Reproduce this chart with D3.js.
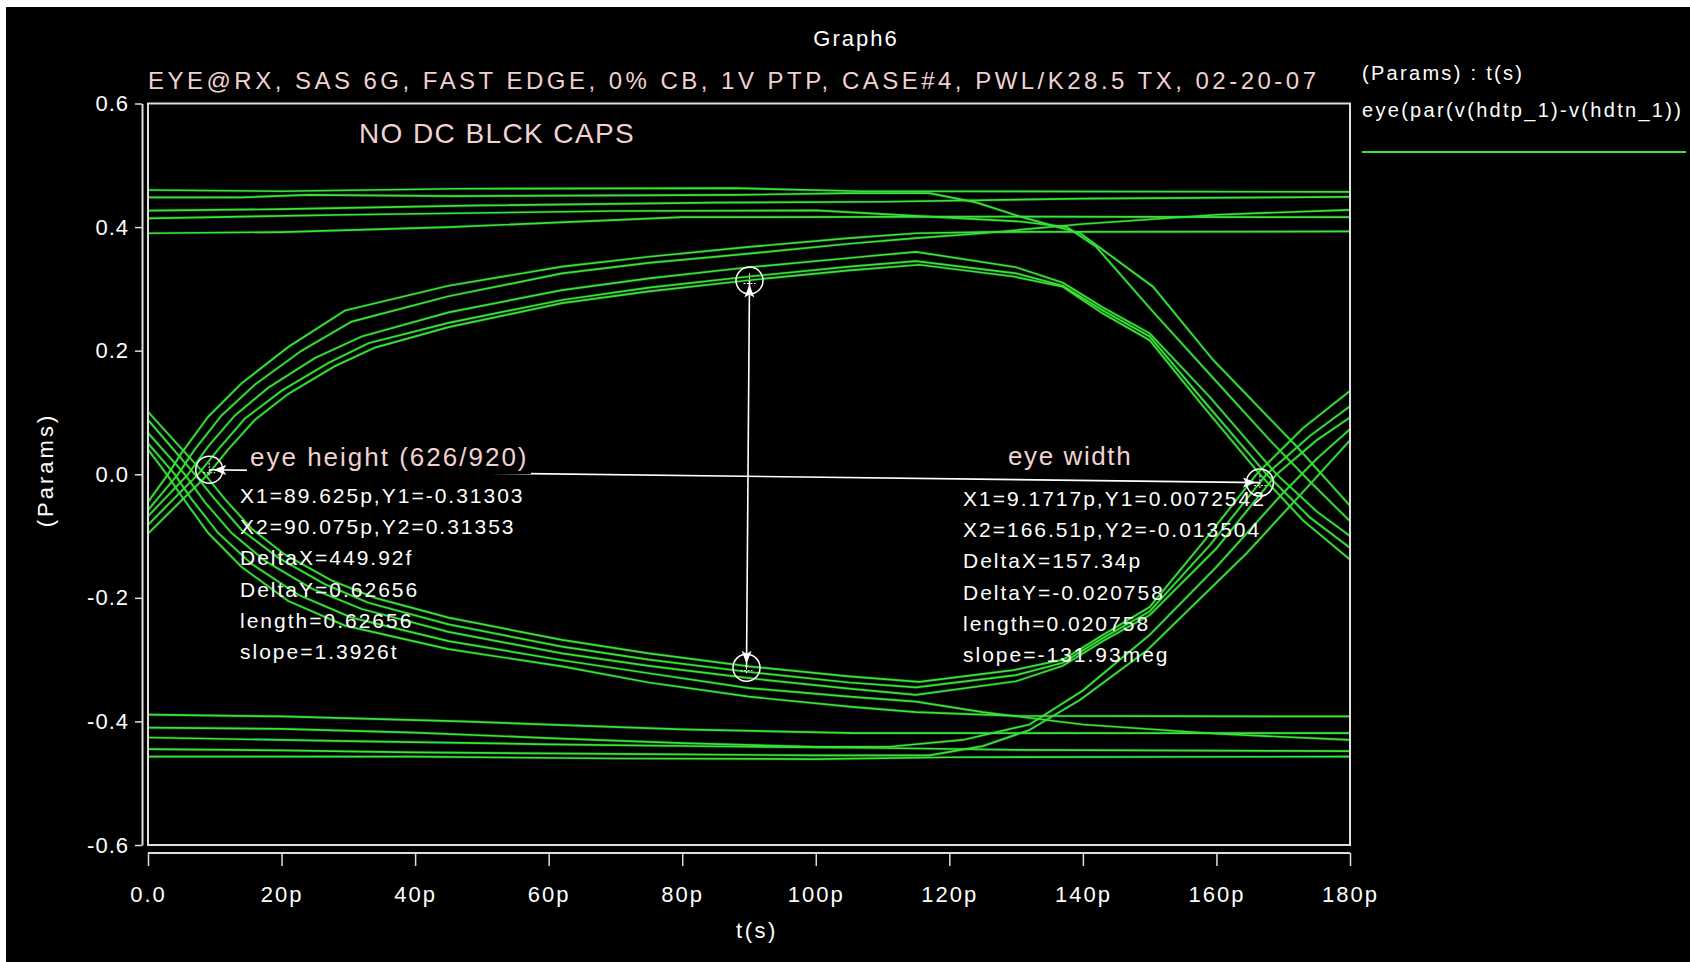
<!DOCTYPE html>
<html><head><meta charset="utf-8">
<script src="https://cdn.jsdelivr.net/npm/d3@7"></script>
<style>
html,body{margin:0;padding:0;background:#fff;}
svg{display:block;}
text{font-family:"Liberation Sans",Arial,Helvetica,sans-serif;}
</style></head><body>
<svg id="chart" width="1690" height="962"></svg>
<script>
// ---------------- data ----------------
const xTickValues = [0, 20, 40, 60, 80, 100, 120, 140, 160, 180];
const xTickLabels = ["0.0", "20p", "40p", "60p", "80p", "100p", "120p", "140p", "160p", "180p"];
const yTickValues = [-0.6, -0.4, -0.2, 0.0, 0.2, 0.4, 0.6];
const yTickLabels = ["-0.6", "-0.4", "-0.2", "0.0", "0.2", "0.4", "0.6"];

// traces: [t (ps), v (V)]
const topTraces = [
  [[0,0.460],[20,0.458],[46,0.462],[88,0.463],[107,0.458],[180,0.457]],
  [[0,0.448],[14,0.448],[24,0.452],[46,0.450],[88,0.452],[105,0.455],[117,0.455],[124,0.440],[130.6,0.417],[139.6,0.390],[150.5,0.3035],[159.5,0.185],[172,0.045],[180,-0.051]],
  [[0,0.4265],[20,0.429],[50,0.435],[85,0.4395],[110,0.441],[140,0.446],[180,0.449]],
  [[0,0.414],[30,0.420],[70,0.426],[100,0.427],[115,0.418],[130.6,0.409],[137.6,0.400],[142,0.368],[150.5,0.263],[160,0.150],[168,0.055],[174,-0.012],[180,-0.076]],
  [[0,0.390],[20,0.392],[45,0.400],[80,0.416],[130,0.417],[180,0.416]]
];
const upperArcTraces = [
  [[0,-0.045],[3,0],[5,0.034],[9,0.093],[14,0.147],[21,0.206],[29.5,0.265],[45,0.305],[62,0.336],[75,0.352],[90,0.368],[105,0.382],[115,0.390],[125,0.392],[180,0.393]],
  [[0,-0.058],[4.5,0],[7,0.040],[11,0.095],[16,0.145],[23,0.200],[30.5,0.247],[45,0.288],[62,0.325],[75,0.342],[90,0.357],[105,0.373],[115,0.382],[125,0.390],[140,0.405],[160,0.420],[180,0.428]],
  [[0,-0.068],[6,0],[9,0.045],[13,0.095],[18,0.140],[25,0.188],[32,0.223],[45,0.262],[62,0.298],[75,0.317],[90,0.335],[105,0.350],[115,0.360],[130,0.335],[137,0.310],[143,0.270],[150,0.228],[159,0.125],[169,0],[175,-0.060],[180,-0.100]],
  [[0,-0.082],[7.5,0],[10.5,0.040],[14.5,0.090],[20,0.135],[27,0.180],[33,0.212],[45,0.245],[62,0.282],[75,0.302],[90,0.320],[105,0.336],[115,0.345],[130,0.325],[137,0.305],[143,0.265],[150,0.223],[158,0.120],[167.5,0],[174,-0.070],[180,-0.119]],
  [[0,-0.096],[9,0],[12,0.040],[16,0.088],[21,0.130],[28,0.175],[34,0.205],[45,0.238],[62,0.277],[75,0.296],[90,0.314],[105,0.330],[115.5,0.339],[129.6,0.320],[137,0.3035],[143,0.260],[150,0.217],[158,0.110],[166.5,0],[173,-0.075],[180,-0.138]]
];
const lowerArcTraces = [
  [[0,0.040],[2.8,0],[5,-0.035],[9,-0.095],[14,-0.150],[21,-0.205],[29.5,-0.245],[45,-0.283],[62,-0.311],[75,-0.337],[90,-0.360],[105,-0.376],[115,-0.385],[130,-0.391],[180,-0.392]],
  [[0,0.050],[4,0],[6.5,-0.040],[10.5,-0.095],[15.5,-0.145],[22.5,-0.195],[30.5,-0.232],[45,-0.270],[62,-0.301],[75,-0.322],[90,-0.346],[105,-0.360],[115,-0.368],[125,-0.385],[140,-0.405],[160,-0.420],[180,-0.430]],
  [[0,0.067],[5.5,0],[8.5,-0.045],[12.5,-0.095],[17.5,-0.140],[24.5,-0.185],[32,-0.218],[45,-0.255],[62,-0.290],[75,-0.310],[90,-0.330],[105,-0.347],[115,-0.357],[130,-0.335],[137,-0.310],[143,-0.270],[150,-0.228],[160,-0.120],[169,0],[175,0.055],[180,0.092]],
  [[0,0.088],[7,0],[10,-0.040],[14,-0.090],[19.5,-0.135],[26.5,-0.178],[33,-0.208],[45,-0.243],[62,-0.279],[75,-0.300],[90,-0.320],[105,-0.337],[115,-0.345],[130,-0.325],[137,-0.305],[143,-0.265],[150,-0.222],[159,-0.115],[167.5,0],[174,0.062],[180,0.110]],
  [[0,0.101],[8.5,0],[11.5,-0.040],[15.5,-0.088],[20.5,-0.130],[27.5,-0.172],[34,-0.200],[45,-0.232],[62,-0.268],[75,-0.290],[90,-0.311],[105,-0.327],[115.5,-0.336],[129.6,-0.317],[137,-0.300],[143,-0.260],[150,-0.215],[158,-0.110],[166,0],[173,0.075],[180,0.135]]
];
const bottomTraces = [
  [[0,-0.457],[40,-0.457],[70,-0.460],[100,-0.461],[120,-0.458],[180,-0.457]],
  [[0,-0.445],[20,-0.447],[40,-0.450],[75,-0.453],[100,-0.455],[117,-0.455],[125,-0.440],[132,-0.414],[139.6,-0.365],[149.6,-0.285],[164.5,-0.128],[172,-0.040],[180,0.055]],
  [[0,-0.426],[30,-0.432],[60,-0.437],[90,-0.441],[110,-0.443],[130,-0.446],[180,-0.448]],
  [[0,-0.410],[20,-0.412],[40,-0.418],[60,-0.427],[80,-0.435],[100,-0.441],[111,-0.441],[122,-0.430],[132,-0.405],[140,-0.350],[150,-0.260],[160,-0.150],[170,-0.030],[175,0.025],[180,0.073]],
  [[0,-0.389],[20,-0.392],[47,-0.400],[80,-0.413],[106,-0.419],[180,-0.419]]
];

// cursor measurements
const eyeHeightCursor = [[89.625, -0.31303], [90.075, 0.31353]];
const eyeWidthCursor = [[9.1717, 0.0072542], [166.51, -0.013504]];
const eyeHeightNotes = ["X1=89.625p,Y1=-0.31303", "X2=90.075p,Y2=0.31353", "DeltaX=449.92f", "DeltaY=0.62656", "length=0.62656", "slope=1.3926t"];
const eyeWidthNotes = ["X1=9.1717p,Y1=0.0072542", "X2=166.51p,Y2=-0.013504", "DeltaX=157.34p", "DeltaY=-0.020758", "length=0.020758", "slope=-131.93meg"];

const graphName = "Graph6";
const titleText = "EYE@RX, SAS 6G, FAST EDGE, 0% CB, 1V PTP, CASE#4, PWL/K28.5 TX, 02-20-07";
const subTitleText = "NO DC BLCK CAPS";
const legendHeader = "(Params) : t(s)";
const legendSeries = "eye(par(v(hdtp_1)-v(hdtn_1))";
const xLabel = "t(s)";
const yLabel = "(Params)";
const eyeHeightLabel = "eye height (626/920)";
const eyeWidthLabel = "eye width";

// ---------------- drawing ----------------
(function () {
const W = 1690, H = 962;
const GREEN = "#3ce23c", PINK = "#f1d2d2", AXIS = "#dedede";
const svg = d3.select("#chart");
svg.append("rect").attr("width", W).attr("height", H).attr("fill", "#fff");
svg.append("rect").attr("x", 6).attr("y", 7).attr("width", W - 6).attr("height", H - 7).attr("fill", "#000");

const pL = 148, pR = 1350, pT = 103.5, pB = 845;
const x = d3.scaleLinear().domain([0, 180]).range([pL, pR]);
const y = d3.scaleLinear().domain([-0.6, 0.6]).range([pB, pT]);

svg.append("defs").append("clipPath").attr("id", "plotClip")
  .append("rect").attr("x", pL).attr("y", pT).attr("width", pR - pL).attr("height", pB - pT);

// traces
const line = d3.line().x(d => x(d[0])).y(d => y(d[1]));
const allTraces = [].concat(topTraces, upperArcTraces, lowerArcTraces, bottomTraces);
const traceG = svg.append("g").attr("clip-path", "url(#plotClip)");
traceG.selectAll("path.glow").data(allTraces).join("path").attr("class", "glow")
  .attr("d", line).attr("fill", "none").attr("stroke", "#1f9a1f").attr("stroke-width", 3.2).attr("stroke-opacity", 0.35);
traceG.selectAll("path.trace").data(allTraces).join("path").attr("class", "trace")
  .attr("d", line).attr("fill", "none").attr("stroke", GREEN).attr("stroke-width", 1.7);

// frame
svg.append("rect").attr("x", pL).attr("y", pT).attr("width", pR - pL).attr("height", pB - pT)
  .attr("fill", "none").attr("stroke", AXIS).attr("stroke-width", 2);

// axes
function styleAxis(g, ls) {
  g.attr("font-family", '"Liberation Sans",Arial,sans-serif').attr("font-size", 22).attr("color", AXIS);
  g.selectAll(".domain").attr("stroke-width", 2);
  g.selectAll(".tick line").attr("stroke-width", 1.5);
  g.selectAll(".tick text").attr("fill", "#fff").attr("letter-spacing", ls);
}
const yAxisG = svg.append("g").attr("transform", "translate(142,0)")
  .call(d3.axisLeft(y).tickValues(yTickValues).tickFormat((d, i) => yTickLabels[i]).tickSize(7).tickSizeOuter(0).tickPadding(6));
styleAxis(yAxisG, 1);
const xAxisG = svg.append("g").attr("transform", "translate(0,853)")
  .call(d3.axisBottom(x).tickValues(xTickValues).tickFormat((d, i) => xTickLabels[i]).tickSize(13).tickSizeOuter(0).tickPadding(20));
styleAxis(xAxisG, 2);
xAxisG.select(".domain").attr("d", `M${pL},0H${pR}`);

// titles
svg.append("text").attr("x", 856).attr("y", 46).attr("text-anchor", "middle").attr("font-size", 22)
  .attr("letter-spacing", 2).attr("fill", "#fff").text(graphName);
svg.append("text").attr("x", 148).attr("y", 89).attr("font-size", 24).attr("fill", PINK)
  .attr("textLength", 1168).attr("lengthAdjust", "spacing").text(titleText);
svg.append("text").attr("x", 359).attr("y", 143).attr("font-size", 28).attr("fill", PINK)
  .attr("letter-spacing", 1.4).text(subTitleText);

// legend
svg.append("text").attr("x", 1362).attr("y", 80).attr("font-size", 20).attr("letter-spacing", 2.3)
  .attr("fill", "#fff").text(legendHeader);
svg.append("text").attr("x", 1362).attr("y", 117).attr("font-size", 20).attr("letter-spacing", 2.3)
  .attr("fill", "#fff").text(legendSeries);
svg.append("line").attr("x1", 1362).attr("x2", 1686).attr("y1", 152).attr("y2", 152)
  .attr("stroke", GREEN).attr("stroke-width", 2);

// axis labels
svg.append("text").attr("x", 757).attr("y", 938).attr("text-anchor", "middle").attr("font-size", 22)
  .attr("letter-spacing", 2.5).attr("fill", "#fff").text(xLabel);
svg.append("text").attr("transform", "translate(53,470) rotate(-90)").attr("text-anchor", "middle")
  .attr("font-size", 22).attr("letter-spacing", 3).attr("fill", "#fff").text(yLabel);

// cursor annotations
const annG = svg.append("g");
function arrowHead(p, q) { // arrow at p, pointing from q toward p
  const dx = p[0] - q[0], dy = p[1] - q[1], L = Math.hypot(dx, dy);
  const ux = dx / L, uy = dy / L, px = -uy, py = ux;
  const tip = [p[0] - ux * 4, p[1] - uy * 4];
  const b = [tip[0] - ux * 13, tip[1] - uy * 13];
  annG.append("path")
    .attr("d", `M${tip[0]},${tip[1]}L${b[0] + px * 5},${b[1] + py * 5}L${b[0] + ux * 3},${b[1] + uy * 3}L${b[0] - px * 5},${b[1] - py * 5}Z`)
    .attr("fill", "#fff");
}
function cursorMark(p) {
  annG.append("circle").attr("cx", p[0]).attr("cy", p[1]).attr("r", 13.5)
    .attr("fill", "none").attr("stroke", "#fff").attr("stroke-width", 1.5);
  annG.append("path").attr("d", `M${p[0]},${p[1] - 7}V${p[1] + 7}M${p[0] - 6},${p[1] + 3}H${p[0] + 6}`)
    .attr("stroke", "#fff").attr("stroke-width", 1).attr("stroke-dasharray", "2,1.5");
}
function measure(cur) {
  const p1 = [x(cur[0][0]), y(cur[0][1])], p2 = [x(cur[1][0]), y(cur[1][1])];
  annG.append("line").attr("x1", p1[0]).attr("y1", p1[1]).attr("x2", p2[0]).attr("y2", p2[1])
    .attr("stroke", "#fff").attr("stroke-width", 1.6);
  arrowHead(p1, p2); arrowHead(p2, p1);
  cursorMark(p1); cursorMark(p2);
}
measure(eyeWidthCursor);
measure(eyeHeightCursor);

// labels
annG.append("rect").attr("x", 247).attr("y", 441).attr("width", 284).attr("height", 33).attr("fill", "#000");
annG.append("text").attr("x", 250).attr("y", 466).attr("font-size", 26).attr("letter-spacing", 2)
  .attr("fill", PINK).text(eyeHeightLabel);
annG.append("text").attr("x", 1008).attr("y", 465).attr("font-size", 26).attr("letter-spacing", 1.6)
  .attr("fill", PINK).text(eyeWidthLabel);
annG.selectAll("text.hnote").data(eyeHeightNotes).join("text").attr("class", "hnote")
  .attr("x", 240).attr("y", (d, i) => 503 + i * 31.2).attr("font-size", 21).attr("letter-spacing", 2)
  .attr("fill", "#fff").text(d => d);
annG.selectAll("text.wnote").data(eyeWidthNotes).join("text").attr("class", "wnote")
  .attr("x", 963).attr("y", (d, i) => 506 + i * 31.2).attr("font-size", 21).attr("letter-spacing", 2)
  .attr("fill", "#fff").text(d => d);
})();
</script>
</body></html>
